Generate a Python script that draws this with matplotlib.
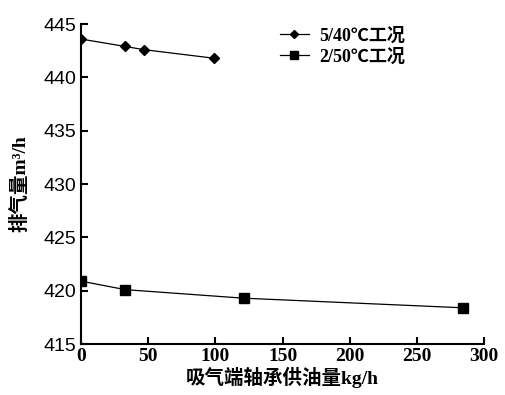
import matplotlib
matplotlib.use("Agg")
import matplotlib.pyplot as plt

plt.rcParams['font.family'] = ['Liberation Serif', 'Noto Sans CJK SC', 'DejaVu Sans']
plt.rcParams['font.weight'] = 'bold'

x1 = [0, 33, 47, 99]
y1 = [443.6, 442.9, 442.6, 441.8]
x2 = [0, 33, 121, 284]
y2 = [420.9, 420.1, 419.3, 418.4]
labels = ['5/40℃工况', '2/50℃工况']
xticks = [0, 50, 100, 150, 200, 250, 300]
yticks = [415, 420, 425, 430, 435, 440, 445]

fig = plt.figure(figsize=(5.06, 3.95), dpi=100)
ax = fig.add_axes([0.160, 0.129, 0.797, 0.810])
ax.plot(x1, y1, color='black', marker='D', markersize=5.5, linewidth=0.9, label=labels[0])
ax.plot(x2, y2, color='black', marker='s', markersize=7.5, linewidth=0.9, label=labels[1])
ax.set_xlim(0, 300)
ax.set_ylim(415, 445)
ax.set_xticks(xticks)
ax.set_yticks(yticks)
ax.spines['top'].set_visible(False)
ax.spines['right'].set_visible(False)
for s in ['left', 'bottom']:
    ax.spines[s].set_linewidth(1.5)
ax.tick_params(direction='in', length=5, width=1.5, labelsize=14)
ax.tick_params(axis='x', pad=3)
for lab in ax.get_yticklabels():
    lab.set_family(['Liberation Sans', 'DejaVu Sans'])
    lab.set_fontweight('normal')
    lab.set_fontsize(14)
ax.set_xlabel('吸气端轴承供油量kg/h', fontsize=14, fontweight='bold', labelpad=1)
ax.set_ylabel('排气量m³/h', fontsize=14, fontweight='bold', labelpad=10)
leg = ax.legend(loc='upper right', bbox_to_anchor=(0.845, 1.04), frameon=False, fontsize=13,
                handlelength=1.6, labelspacing=0.2, markerscale=0.75, handletextpad=0.6)
fig.savefig('out.png', dpi=100)
